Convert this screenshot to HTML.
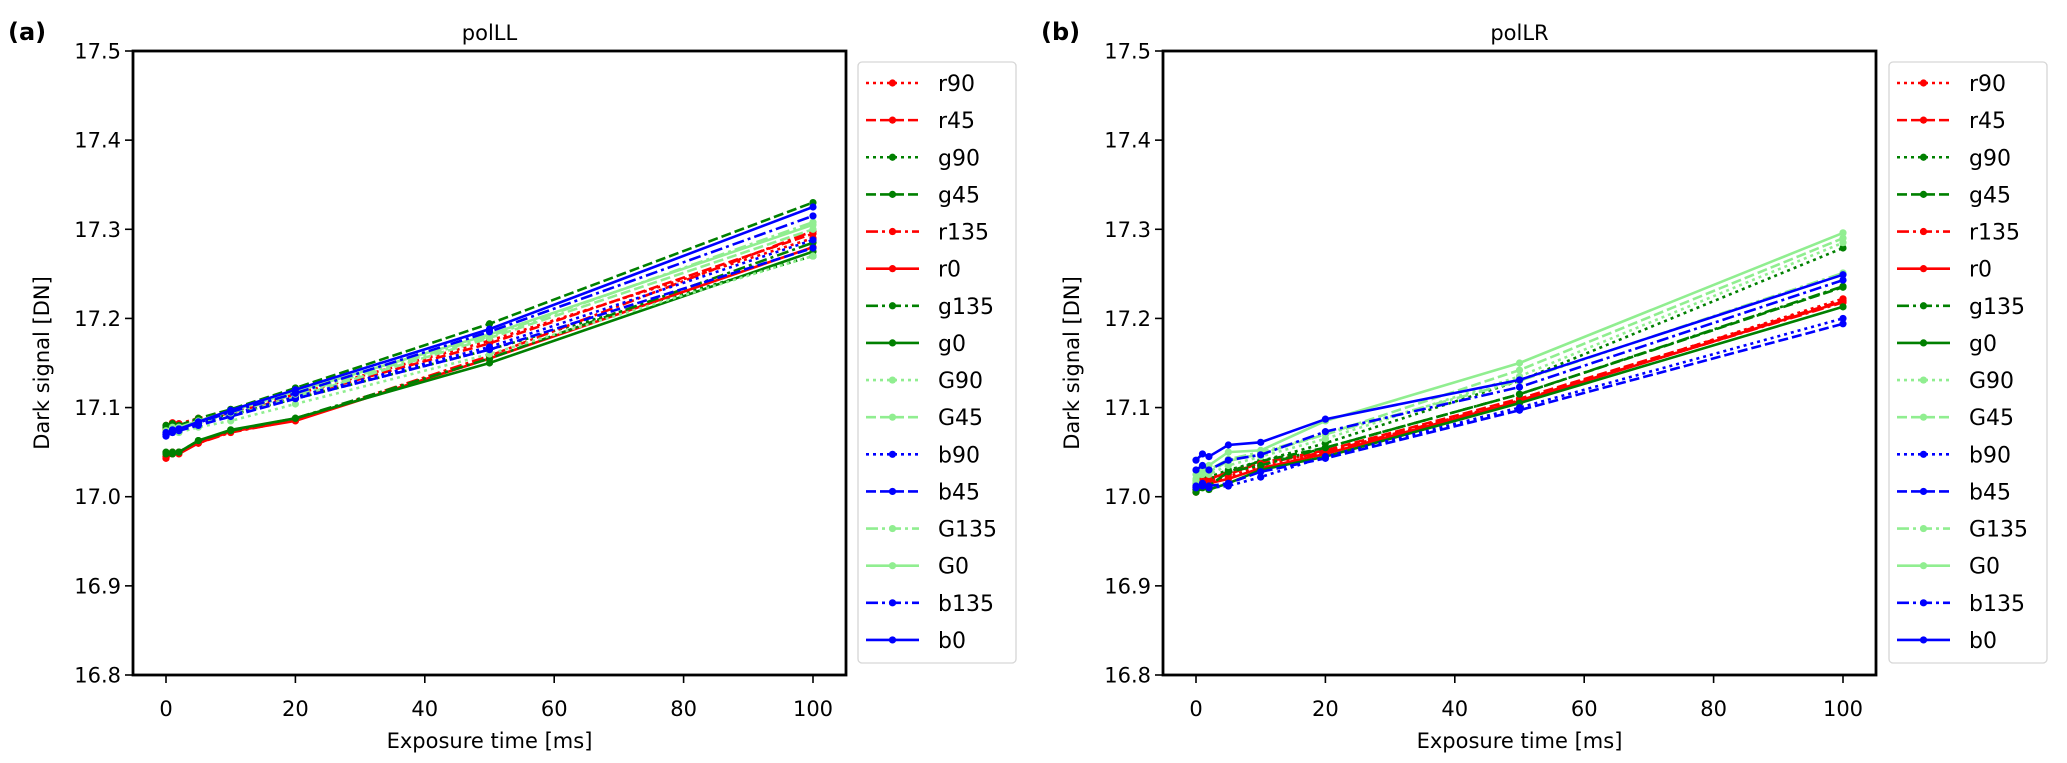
<!DOCTYPE html>
<html><head><meta charset="utf-8"><style>
html,body{margin:0;padding:0;background:#fff;}
svg{display:block;font-family:"DejaVu Sans","Liberation Sans",sans-serif;}
</style></head><body>
<svg id="fig" width="2067" height="763" viewBox="0 0 2067 763" xmlns="http://www.w3.org/2000/svg"></svg>
<script>
const xValues = [0, 1, 2, 5, 10, 20, 50, 100];
const seriesNames = ["r90","r45","g90","g45","r135","r0","g135","g0","G90","G45","b90","b45","G135","G0","b135","b0"];
const xTicks = [0, 20, 40, 60, 80, 100];
const yTicks = [16.8, 16.9, 17.0, 17.1, 17.2, 17.3, 17.4, 17.5];
const llR90 = [17.08,17.083,17.082,17.088,17.095,17.115,17.175,17.29];
const llR45 = [17.075,17.08,17.08,17.086,17.094,17.112,17.172,17.295];
const llG90 = [17.078,17.08,17.078,17.085,17.092,17.11,17.165,17.27];
const llG45 = [17.08,17.082,17.08,17.088,17.098,17.122,17.194,17.33];
const llR135 = [17.043,17.048,17.05,17.06,17.072,17.086,17.158,17.298];
const llR0 = [17.045,17.05,17.048,17.06,17.073,17.085,17.155,17.28];
const llG135 = [17.048,17.05,17.05,17.063,17.074,17.088,17.155,17.285];
const llG0 = [17.05,17.048,17.05,17.063,17.075,17.088,17.15,17.275];
const llLG90 = [17.07,17.072,17.072,17.078,17.085,17.104,17.16,17.27];
const llLG45 = [17.072,17.075,17.075,17.082,17.09,17.112,17.178,17.30];
const llB90 = [17.07,17.075,17.075,17.082,17.092,17.112,17.168,17.288];
const llB45 = [17.068,17.072,17.074,17.08,17.09,17.11,17.165,17.279];
const llLG135 = [17.072,17.076,17.076,17.084,17.094,17.115,17.18,17.308];
const llLG0 = [17.074,17.078,17.078,17.085,17.096,17.118,17.182,17.305];
const llB135 = [17.07,17.075,17.076,17.083,17.095,17.116,17.185,17.315];
const llB0 = [17.072,17.074,17.076,17.084,17.097,17.12,17.188,17.325];
const lrR90 = [17.01,17.02,17.018,17.022,17.035,17.05,17.108,17.222];
const lrR45 = [17.012,17.022,17.02,17.025,17.038,17.052,17.11,17.22];
const lrG90 = [17.015,17.022,17.022,17.03,17.04,17.06,17.13,17.279];
const lrG45 = [17.012,17.02,17.02,17.028,17.04,17.055,17.115,17.235];
const lrR135 = [17.008,17.018,17.02,17.027,17.037,17.05,17.108,17.218];
const lrR0 = [17.005,17.012,17.015,17.02,17.032,17.048,17.107,17.219];
const lrG135 = [17.008,17.012,17.012,17.028,17.035,17.055,17.115,17.236];
const lrG0 = [17.005,17.01,17.008,17.015,17.03,17.045,17.105,17.213];
const lrLG90 = [17.015,17.025,17.025,17.035,17.045,17.065,17.135,17.285];
const lrLG45 = [17.018,17.028,17.028,17.04,17.048,17.07,17.142,17.29];
const lrB90 = [17.01,17.012,17.01,17.012,17.022,17.045,17.1,17.2];
const lrB45 = [17.012,17.015,17.012,17.015,17.028,17.043,17.097,17.194];
const lrLG135 = [17.02,17.03,17.03,17.042,17.05,17.07,17.13,17.251];
const lrLG0 = [17.025,17.035,17.035,17.05,17.052,17.085,17.15,17.296];
const lrB135 = [17.03,17.035,17.03,17.041,17.047,17.073,17.123,17.243];
const lrB0 = [17.041,17.048,17.045,17.058,17.061,17.087,17.131,17.249];

const llData = [llR90,llR45,llG90,llG45,llR135,llR0,llG135,llG0,llLG90,llLG45,llB90,llB45,llLG135,llLG0,llB135,llB0];
const lrData = [lrR90,lrR45,lrG90,lrG45,lrR135,lrR0,lrG135,lrG0,lrLG90,lrLG45,lrB90,lrB45,lrLG135,lrLG0,lrB135,lrB0];

const colorMap = {r:"#ff0000", g:"#008000", G:"#90ee90", b:"#0000ff"};
function styleOf(name){
  const ang = name.slice(1);
  if (ang === "90") return "3,4";
  if (ang === "45") return "10,4";
  if (ang === "135") return "12,4,3,4";
  return "";
}
const NS = "http://www.w3.org/2000/svg";
const svg = document.getElementById("fig");
function mk(tag, attrs, parent){
  const e = document.createElementNS(NS, tag);
  for (const k in attrs) e.setAttribute(k, attrs[k]);
  (parent || svg).appendChild(e);
  return e;
}

function panel(cfg){
  const g = mk("g", {});
  
  
  const xs = v => cfg.x0 + v * (cfg.x100 - cfg.x0) / 100;
  const ys = v => 675 - (v - 16.8) * (675 - 51) / 0.7;
  cfg.data.forEach((arr, i) => {
    const name = seriesNames[i];
    const col = colorMap[name[0]];
    const pts = arr.map((v, j) => xs(xValues[j]).toFixed(1) + "," + ys(v).toFixed(1)).join(" ");
    const pl = mk("polyline", {points: pts, fill: "none", stroke: col, "stroke-width": 2.6, "stroke-dasharray": styleOf(name)}, g);
    
    
    arr.forEach((v, j) => {
      const c = mk("circle", {cx: xs(xValues[j]), cy: ys(v), r: 3.6, fill: col}, g);
      
      
    });
  });
  const fr = mk("rect", {x: cfg.left, y: 51, width: cfg.right - cfg.left, height: 624, fill: "none", stroke: "#000", "stroke-width": 2.8}, g);
  
  
  xTicks.forEach(t => {
    const X = xs(t);
    mk("line", {x1: X, x2: X, y1: 675, y2: 683, stroke: "#000", "stroke-width": 1.6}, g);
    const tx = mk("text", {x: X, y: 716, "font-size": 21, "text-anchor": "middle", fill: "#000"}, g);
    tx.textContent = String(t);
    
    
  });
  yTicks.forEach(t => {
    const Y = ys(t);
    mk("line", {x1: cfg.left - 8, x2: cfg.left, y1: Y, y2: Y, stroke: "#000", "stroke-width": 1.6}, g);
    const tx = mk("text", {x: cfg.left - 12, y: Y + 7.5, "font-size": 21, "text-anchor": "end", fill: "#000"}, g);
    tx.textContent = t.toFixed(1);
    
    
  });
  const xl = mk("text", {x: (cfg.left + cfg.right) / 2, y: 748, "font-size": 21, "text-anchor": "middle"}, g);
  xl.textContent = "Exposure time [ms]";
  
  
  const yl = mk("text", {x: 0, y: 0, "font-size": 21, "text-anchor": "middle", transform: "translate(" + (cfg.left - 84) + ",363) rotate(-90)"}, g);
  yl.textContent = "Dark signal [DN]";
  
  
  const ti = mk("text", {x: (cfg.left + cfg.right) / 2, y: 40, "font-size": 21, "text-anchor": "middle"}, g);
  ti.textContent = cfg.title;
  
  
  const lb = mk("text", {x: cfg.labelX, y: 40, "font-size": 24, "font-weight": "bold"}, g);
  lb.textContent = cfg.label;
  
  
  const lg = mk("g", {}, g);
  
  
  mk("rect", {x: cfg.legX, y: 62, width: 158, height: 601, rx: 4, fill: "#fff", stroke: "#d6d6d6", "stroke-width": 1.3}, lg);
  seriesNames.forEach((name, i) => {
    const Y = 83 + i * 37.13;
    const col = colorMap[name[0]];
    const e = mk("g", {}, lg);
    
    
    mk("line", {x1: cfg.legX + 8, x2: cfg.legX + 61, y1: Y, y2: Y, stroke: col, "stroke-width": 2.6, "stroke-dasharray": styleOf(name)}, e);
    mk("circle", {cx: cfg.legX + 34.5, cy: Y, r: 3.6, fill: col}, e);
    const t = mk("text", {x: cfg.legX + 80, y: Y + 8, "font-size": 22}, e);
    t.textContent = name;
  });
}
panel({id: "polLL", title: "polLL", label: "(a)", labelX: 8, left: 133, right: 846, x0: 166, x100: 813, legX: 858, data: llData});
panel({id: "polLR", title: "polLR", label: "(b)", labelX: 1041, left: 1163, right: 1876, x0: 1196, x100: 1843, legX: 1889, data: lrData});
</script>
</body></html>
